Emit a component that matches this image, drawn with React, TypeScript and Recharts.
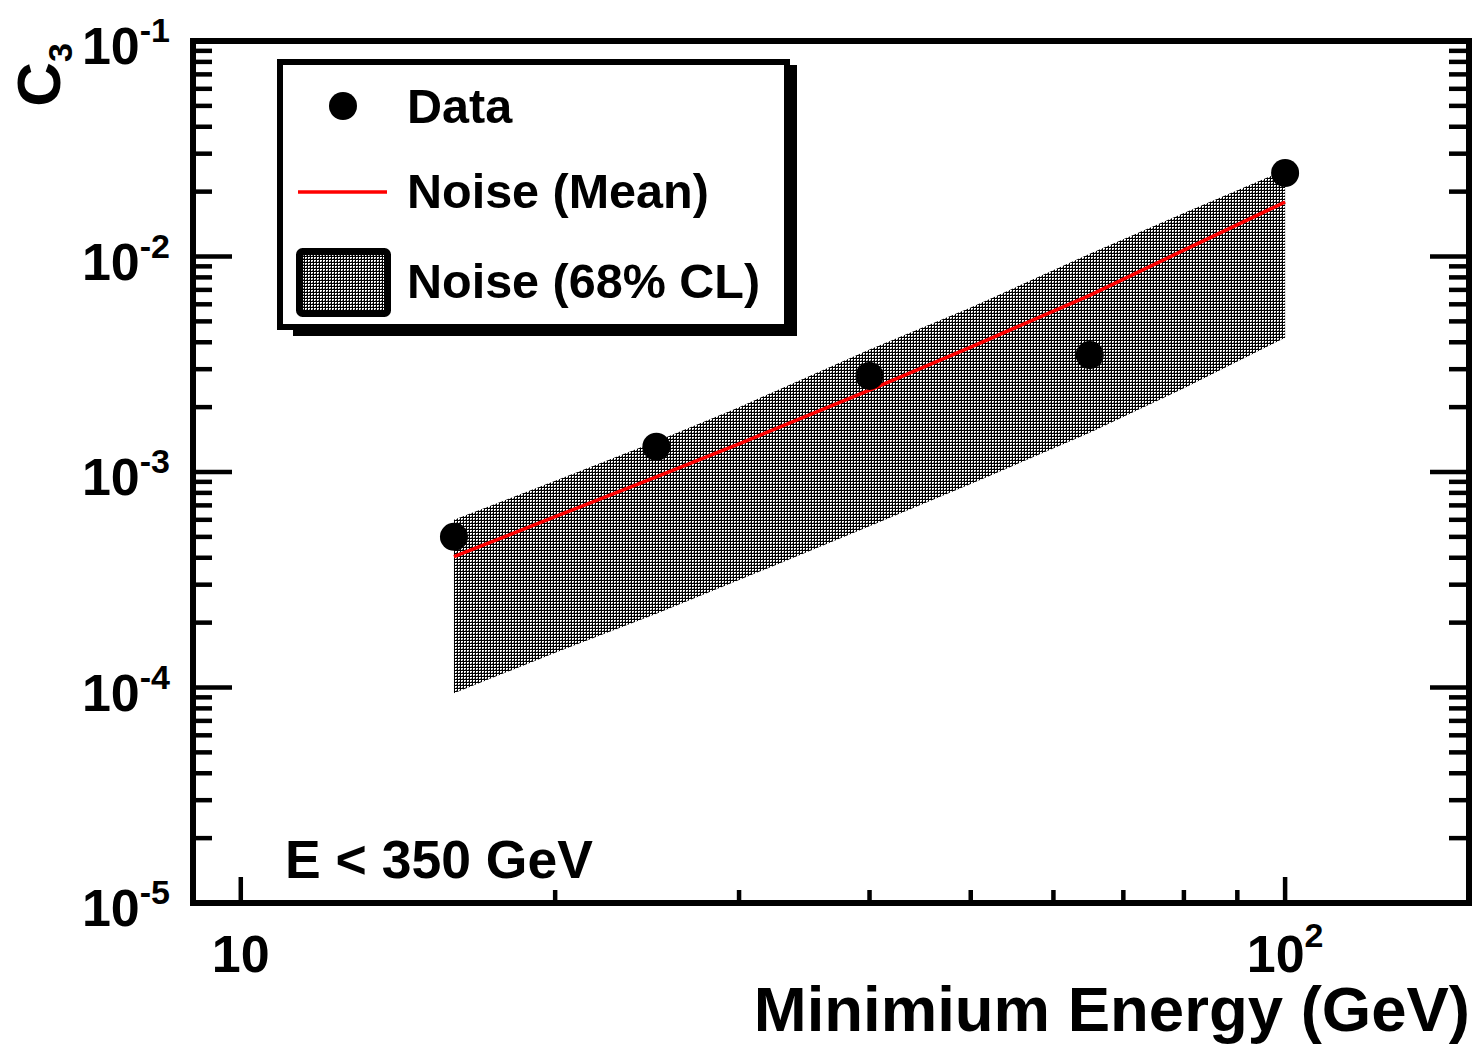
import React from 'react';
import { ComposedChart, Area, Line, Scatter, XAxis, YAxis, ReferenceArea } from 'recharts';

// ---------- data ----------
const E_GRID = [16, 20, 25, 30, 40, 50, 65, 80, 100];
const NOISE_LOW = [9.4e-5, 1.45e-4, 2.2e-4, 3.15e-4, 5.6e-4, 8.8e-4, 1.52e-3, 2.45e-3, 4.2e-3];
const NOISE_HIGH = [6.0e-4, 9.1e-4, 1.39e-3, 2.0e-3, 3.7e-3, 5.8e-3, 1.03e-2, 1.59e-2, 2.52e-2];
const NOISE_MEAN = [4.05e-4, 6.2e-4, 9.5e-4, 1.35e-3, 2.4e-3, 3.8e-3, 6.6e-3, 1.07e-2, 1.79e-2];

const DATA_E = [16, 25, 40, 65, 100];
const DATA_C3 = [5.0e-4, 1.31e-3, 2.79e-3, 3.49e-3, 2.44e-2];

const X_DOMAIN = [9, 150];
const Y_DOMAIN = [1e-5, 1e-1];
const X_MAJOR = [10, 100];
const X_MAJOR_BASE = ['10', '10'];
const X_MAJOR_EXP = ['', '2'];
const X_MINOR = [20, 30, 40, 50, 60, 70, 80, 90];
const Y_MAJOR = [1e-5, 1e-4, 1e-3, 1e-2, 1e-1];
const Y_MAJOR_BASE = ['10', '10', '10', '10', '10'];
const Y_MAJOR_EXP = ['-5', '-4', '-3', '-2', '-1'];
const MINOR_MULT = [2, 3, 4, 5, 6, 7, 8, 9];

const X_TICKS = [...X_MAJOR, ...X_MINOR].sort((a, b) => a - b);
const Y_TICKS = [...Y_MAJOR, ...Y_MAJOR.slice(0, -1).flatMap((d) => MINOR_MULT.map((m) => m * d))];

const X_TITLE = 'Minimium Energy (GeV)';
const Y_TITLE_MAIN = 'C';
const Y_TITLE_SUB = '3';
const ANNOTATION = 'E < 350 GeV';
const LEGEND_LABELS = ['Data', 'Noise (Mean)', 'Noise (68% CL)'];

const NOISE_TABLE = E_GRID.map((E, i) => ({ E, band: [NOISE_LOW[i], NOISE_HIGH[i]], mean: NOISE_MEAN[i] }));
const POINTS = DATA_E.map((E, i) => ({ E, c3: DATA_C3[i] }));

// ---------- style ----------
const FONT = '"Liberation Sans", Arial, Helvetica, sans-serif';
const TICK_W = 4.5;

const majorIndex = (list: number[], v: number) =>
  list.findIndex((m) => Math.abs(Math.log10(m) - Math.log10(v)) < 1e-6);

function BottomTick(props: any) {
  const { x, y, payload } = props;
  const idx = majorIndex(X_MAJOR, payload.value);
  const major = idx >= 0;
  return (
    <g>
      <line x1={x} x2={x} y1={y} y2={y - (major ? 26 : 13)} stroke="#000" strokeWidth={TICK_W} />
      {major && (
        <text x={x} y={y + 69} textAnchor="middle" fontFamily={FONT} fontWeight="bold" fontSize={52} fill="#000">
          {X_MAJOR_BASE[idx]}
          {X_MAJOR_EXP[idx] ? (
            <tspan dy={-25} fontSize={34}>
              {X_MAJOR_EXP[idx]}
            </tspan>
          ) : null}
        </text>
      )}
    </g>
  );
}

function TopTick(props: any) {
  const { x, y, payload } = props;
  const major = majorIndex(X_MAJOR, payload.value) >= 0;
  return <line x1={x} x2={x} y1={y} y2={y + (major ? 23 : 10)} stroke="#000" strokeWidth={TICK_W} />;
}

function LeftTick(props: any) {
  const { x, y, payload } = props;
  const idx = majorIndex(Y_MAJOR, payload.value);
  const major = idx >= 0;
  return (
    <g>
      <line x1={x} x2={x + (major ? 39 : 19)} y1={y} y2={y} stroke="#000" strokeWidth={TICK_W} />
      {major && (
        <text x={x - 23} y={y + 23} textAnchor="end" fontFamily={FONT} fontWeight="bold" fontSize={52} fill="#000">
          {Y_MAJOR_BASE[idx]}
          <tspan dy={-22} fontSize={34}>
            {Y_MAJOR_EXP[idx]}
          </tspan>
        </text>
      )}
    </g>
  );
}

function RightTick(props: any) {
  const { x, y, payload } = props;
  const major = majorIndex(Y_MAJOR, payload.value) >= 0;
  return <line x1={x} x2={x - (major ? 39 : 20)} y1={y} y2={y} stroke="#000" strokeWidth={TICK_W} />;
}

function XTitle(props: any) {
  const vb = props.viewBox || {};
  return (
    <text
      x={vb.x + vb.width + 1}
      y={vb.y + 128}
      textAnchor="end"
      fontFamily={FONT}
      fontWeight="bold"
      fontSize={63.5}
      fill="#000"
    >
      {X_TITLE}
    </text>
  );
}

function YTitle(props: any) {
  const vb = props.viewBox || {};
  const bx = vb.x + vb.width - 133;
  const ey = vb.y + 2;
  return (
    <text
      transform={`rotate(-90)`}
      x={-ey}
      y={bx}
      textAnchor="end"
      fontFamily={FONT}
      fontWeight="bold"
      fontSize={62}
      fill="#000"
    >
      {Y_TITLE_MAIN}
      <tspan dy={12} fontSize={34}>
        {Y_TITLE_SUB}
      </tspan>
    </text>
  );
}

function DotShape(props: any) {
  const { cx, cy } = props;
  return <circle cx={cx} cy={cy} r={14} fill="#000" />;
}

function HatchPattern({ id }: { id: string }) {
  return (
    <pattern id={id} width={3} height={3} patternUnits="userSpaceOnUse">
      <rect width={3} height={3} fill="#fff" />
      <rect x={1} y={0} width={1} height={1} fill="#000" />
      <rect x={0} y={1} width={1} height={1} fill="#000" />
      <rect x={2} y={1} width={1} height={1} fill="#000" />
      <rect x={1} y={2} width={1} height={1} fill="#000" />
      <rect x={1} y={1} width={1} height={1} fill="#000" />
      <rect x={0} y={0} width={1} height={1} fill="#777" />
    </pattern>
  );
}

function Overlay() {
  return (
    <svg
      width={1475}
      height={1044}
      style={{ position: 'absolute', left: 0, top: 0, pointerEvents: 'none' }}
    >
      <defs>
        <HatchPattern id="legendHatch" />
      </defs>
      {/* legend box with shadow */}
      <rect x={293} y={65} width={504} height={271} fill="#000" />
      <rect x={280} y={62} width={507} height={265} fill="#fff" stroke="#000" strokeWidth={6} />
      {/* Data */}
      <circle cx={343} cy={106} r={14} fill="#000" />
      <text x={407} y={123} fontFamily={FONT} fontWeight="bold" fontSize={48.5} fill="#000">
        {LEGEND_LABELS[0]}
      </text>
      {/* Mean */}
      <line x1={298} x2={387} y1={192} y2={192} stroke="#ff0000" strokeWidth={3.5} />
      <text x={407} y={208} fontFamily={FONT} fontWeight="bold" fontSize={48.5} fill="#000">
        {LEGEND_LABELS[1]}
      </text>
      {/* Band */}
      <rect x={299.5} y={251.5} width={88} height={62} rx={3} fill="url(#legendHatch)" stroke="#000" strokeWidth={7} />
      <text x={407} y={298} fontFamily={FONT} fontWeight="bold" fontSize={48.5} fill="#000">
        {LEGEND_LABELS[2]}
      </text>
      {/* annotation */}
      <text x={285} y={878} fontFamily={FONT} fontWeight="bold" fontSize={53.5} fill="#000">
        {ANNOTATION}
      </text>
    </svg>
  );
}

export default function App() {
  return (
    <div style={{ position: 'absolute', left: 0, top: 0, width: 1475, height: 1044, background: '#fff' }}>
      <ComposedChart
        width={1475}
        height={1044}
        data={NOISE_TABLE}
        margin={{ top: 40, right: 5, bottom: 140, left: 192 }}
      >
        <defs>
          <HatchPattern id="noiseHatch" />
        </defs>
        <XAxis
          xAxisId="x"
          dataKey="E"
          type="number"
          scale="log"
          domain={X_DOMAIN}
          allowDataOverflow
          ticks={X_TICKS}
          interval={0}
          height={1}
          tickSize={0}
          tickMargin={0}
          axisLine={false}
          tickLine={false}
          tick={BottomTick}
          label={{ content: XTitle }}
        />
        <XAxis
          xAxisId="top"
          orientation="top"
          type="number"
          scale="log"
          domain={X_DOMAIN}
          allowDataOverflow
          ticks={X_TICKS}
          interval={0}
          height={1}
          tickSize={0}
          tickMargin={0}
          axisLine={false}
          tickLine={false}
          tick={TopTick}
        />
        <YAxis
          yAxisId="y"
          type="number"
          scale="log"
          domain={Y_DOMAIN}
          allowDataOverflow
          ticks={Y_TICKS}
          interval={0}
          width={1}
          tickSize={0}
          tickMargin={0}
          axisLine={false}
          tickLine={false}
          tick={LeftTick}
          label={{ content: YTitle }}
        />
        <YAxis
          yAxisId="right"
          orientation="right"
          type="number"
          scale="log"
          domain={Y_DOMAIN}
          allowDataOverflow
          ticks={Y_TICKS}
          interval={0}
          width={1}
          tickSize={0}
          tickMargin={0}
          axisLine={false}
          tickLine={false}
          tick={RightTick}
        />
        <Area
          xAxisId="x"
          yAxisId="y"
          type="linear"
          dataKey="band"
          stroke="none"
          fill="url(#noiseHatch)"
          fillOpacity={1}
          dot={false}
          activeDot={false}
          isAnimationActive={false}
        />
        <Line
          xAxisId="x"
          yAxisId="y"
          type="linear"
          dataKey="mean"
          stroke="#ff0000"
          strokeWidth={3.5}
          dot={false}
          activeDot={false}
          isAnimationActive={false}
        />
        <Scatter
          xAxisId="x"
          yAxisId="y"
          data={POINTS}
          dataKey="c3"
          shape={DotShape}
          isAnimationActive={false}
        />
        <ReferenceArea
          xAxisId="x"
          yAxisId="y"
          x1={X_DOMAIN[0]}
          x2={X_DOMAIN[1]}
          y1={Y_DOMAIN[0]}
          y2={Y_DOMAIN[1]}
          fill="none"
          stroke="#000"
          strokeWidth={6}
          ifOverflow="visible"
        />
      </ComposedChart>
      <Overlay />
    </div>
  );
}
